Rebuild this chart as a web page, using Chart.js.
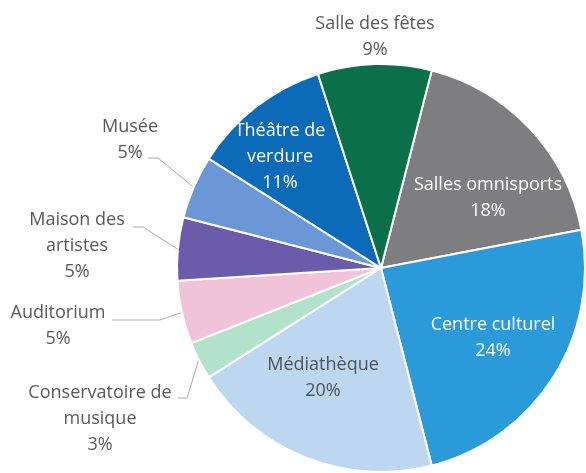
<!DOCTYPE html>
<html>
<head>
<meta charset="utf-8">
<script src="https://cdn.jsdelivr.net/npm/chart.js@4/dist/chart.umd.min.js"></script>
<style>
  body { margin: 0; background: #fff; }
  #mycanvas { display: block; }
</style>
</head>
<body>
<canvas id="mycanvas" width="586" height="473"></canvas>
<script>
// slices, clockwise from the Salles omnisports edge
var categories = ['Salles omnisports', 'Centre culturel', 'Médiathèque', 'Conservatoire de musique',
  'Auditorium', 'Maison des artistes', 'Musée', 'Théâtre de verdure', 'Salle des fêtes'];
var shares = [18, 24, 20, 3, 5, 5, 5, 11, 9];
// label text as printed, one line per entry (without the % line)
var labelLines = [['Salles omnisports'], ['Centre culturel'], ['Médiathèque'], ['Conservatoire de', 'musique'],
  ['Auditorium'], ['Maison des', 'artistes'], ['Musée'], ['Théâtre de', 'verdure'], ['Salle des fêtes']];

var colors = ['#7e7e80', '#2b9ad9', '#bcd7ef', '#b3e2cc', '#f1c3d8', '#6a5bab', '#6b97d6', '#0b6bb8', '#0a7049'];

// where each label block sits (center of text block) and its text colour
var labelPos = [
  {x: 488, y: 198, c: '#ffffff'},
  {x: 493, y: 338, c: '#ffffff'},
  {x: 323, y: 378, c: '#4d5463'},
  {x: 100, y: 419, c: '#595959'},
  {x: 58,  y: 326, c: '#595959'},
  {x: 77,  y: 246, c: '#595959'},
  {x: 130, y: 140, c: '#595959'},
  {x: 280, y: 157, c: '#ffffff'},
  {x: 375, y: 37,  c: '#595959'}
];
// leader lines: horizontal stub at y from x1 to x2, then to the slice edge
var leaders = {
  3: {x1: 178, x2: 187, y: 398},
  4: {x1: 112, x2: 160, y: 320},
  5: {x1: 133, x2: 143, y: 227},
  6: {x1: 148, x2: 158, y: 158}
};

var labelPlugin = {
  id: 'pieLabels',
  afterDatasetsDraw: function(chart) {
    var ctx = chart.ctx;
    var meta = chart.getDatasetMeta(0);
    ctx.save();
    ctx.font = '18px "Open Sans"';
    ctx.textAlign = 'center';
    ctx.textBaseline = 'middle';
    var lh = 26;
    meta.data.forEach(function(arc, i) {
      var p = arc.getProps(['x', 'y', 'startAngle', 'endAngle', 'outerRadius'], true);
      var lead = leaders[i];
      if (lead) {
        var mid = (p.startAngle + p.endAngle) / 2;
        var ex = p.x + (p.outerRadius + 1) * Math.cos(mid);
        var ey = p.y + (p.outerRadius + 1) * Math.sin(mid);
        ctx.strokeStyle = '#a9a9a9';
        ctx.lineWidth = 1;
        ctx.beginPath();
        ctx.moveTo(lead.x1, lead.y);
        ctx.lineTo(lead.x2, lead.y);
        ctx.lineTo(ex, ey);
        ctx.stroke();
      }
      var lines = labelLines[i].concat([shares[i] + '%']);
      var pos = labelPos[i];
      var top = pos.y - (lines.length - 1) * lh / 2;
      ctx.fillStyle = pos.c;
      lines.forEach(function(t, k) {
        ctx.fillText(t, pos.x, top + k * lh);
      });
    });
    ctx.restore();
  }
};

var chartdata = {
  labels: categories,
  datasets: [{
    data: shares,
    backgroundColor: colors,
    borderColor: '#ffffff',
    borderWidth: 2
  }]
};

var ctx = document.getElementById('mycanvas');
var pieChart = new Chart(ctx, {
  type: 'pie',
  data: chartdata,
  options: {
    responsive: false,
    animation: false,
    rotation: 14.4,
    layout: { padding: { left: 176, top: 63, right: 0, bottom: 0 } },
    plugins: {
      legend: { display: false },
      tooltip: { enabled: false }
    }
  },
  plugins: [labelPlugin]
});
</script>
</body>
</html>
